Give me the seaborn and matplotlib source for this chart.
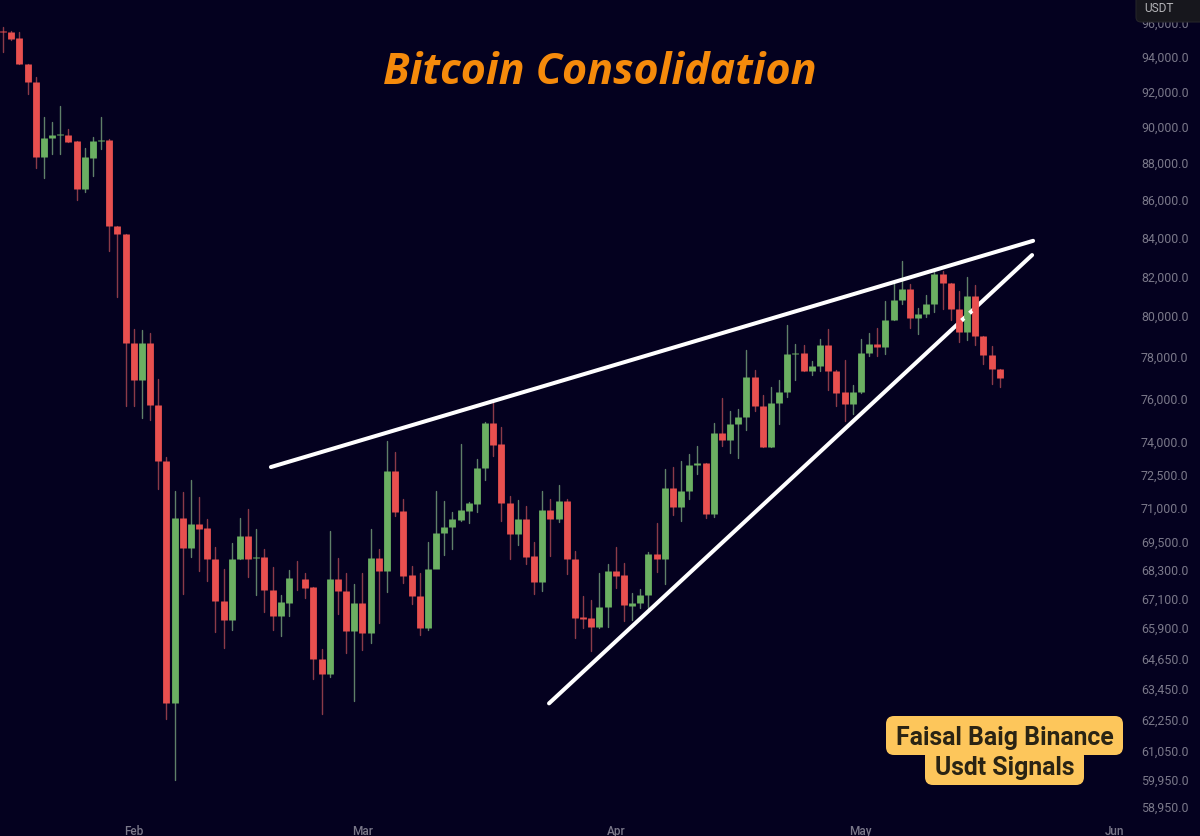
import numpy as np
import pandas as pd
import matplotlib
matplotlib.use("Agg")
import matplotlib.pyplot as plt
import matplotlib.dates as mdates
from matplotlib.patches import FancyBboxPatch
from matplotlib.ticker import NullLocator
from matplotlib.transforms import Affine2D
import seaborn as sns

start_date = "2025-01-16"
opens = [95530,95500,95100,93590,92570,88350,89370,89530,89570,89190,86570,88280,89200,89290,84630,84200,78670,76900,78670,75700,
 73120,62870,70550,69250,70310,70130,68800,67020,66200,68800,69780,68830,68870,67460,66400,66930,67990,67950,67580,64650,
 64040,67950,67430,65780,66920,65690,68820,68270,72650,70860,68090,67200,65890,68370,69900,70175,70470,70880,71180,72770,
 74870,73860,71240,69880,70500,68900,67800,70900,70520,71310,68800,66340,66300,65930,66740,68260,68090,66810,66910,67270,
 68990,68800,71880,71030,71760,72920,73010,70720,74390,74080,74790,75120,77040,75670,73760,75810,76290,78150,78200,77330,
 77560,78590,77320,76290,75730,76310,78180,78650,78500,79800,80830,81360,79920,80130,80600,82140,81650,80380,79230,81010,
 79030,78080,77400]
closes = [95470,95030,93590,92530,88350,89400,89540,89580,89150,86590,88310,89190,89290,84600,84190,78670,76900,78670,75700,73100,
 62870,70550,69250,70310,70090,68800,67020,66200,68800,69780,68800,68860,67460,66400,66960,67970,67960,67560,64650,64040,
 67950,67430,65780,66920,65690,68820,68270,72650,70840,68060,67200,65890,68370,69920,70180,70515,70910,71210,72790,74870,
 73830,71210,69880,70500,68870,67800,70900,70510,71310,68760,66300,66270,65930,66760,68270,68040,66820,66910,67270,68990,
 68800,71880,71030,71760,72920,73010,70720,74390,74080,74790,75120,77040,75640,73760,75810,76290,78150,78200,77330,77560,
 78590,77320,76270,75730,76310,78180,78650,78500,79800,80830,81360,79920,80130,80600,82140,81650,80380,79230,81010,79030,
 78070,77400,76970]
highs = [95780,95510,95470,93600,92840,90560,90300,91170,89880,89200,88810,89460,90540,89300,84640,84210,79370,79300,79170,76950,
 73300,71760,71690,72250,71470,70510,69300,68370,69460,70550,70960,70090,69230,68440,67270,68310,68690,68170,67600,65020,
 69970,68840,68200,67700,68170,70070,69200,74010,73500,71400,68490,68170,69490,71760,71290,70820,73860,71260,73180,74900,
 75950,74680,71540,71370,71070,69510,71760,71400,72010,71400,69130,67230,67060,68170,68560,69310,68630,67350,67490,69090,
 70340,72760,72850,73100,73410,73780,73020,74870,76030,75410,75520,78310,77350,76190,76560,76900,79560,78640,78590,77820,
 78870,79370,77340,77850,76630,78880,79170,79400,80770,81710,82800,81630,80430,81050,82320,82280,81680,81260,81970,81550,
 79040,78540,77420]
lows = [94300,95020,93580,91840,87740,87200,88480,88480,89150,86000,86450,87300,88770,83330,80935,75670,75670,75100,75000,71840,
 62250,59950,67310,68870,68270,67840,65730,65080,65820,68780,68030,67240,66530,65820,65580,66400,67480,67140,63840,62440,
 63930,66460,64880,62950,65010,65260,66100,67400,70640,67740,66880,65620,65820,68900,68940,69200,70440,70340,70840,72250,
 73330,70440,68770,69370,68560,67310,67410,68890,70370,68130,65500,65890,64970,65890,65950,67530,66160,66230,66720,66720,
 68230,67700,70700,70440,71400,72500,70550,70590,73790,73450,73260,74510,75410,73750,73750,74790,76080,76900,77300,77110,
 77300,76390,75630,74930,75280,76280,78020,78020,78150,79790,80630,79400,79120,79940,80210,80380,79800,78700,78830,78590,
 77630,76670,76530]

price_ticks = [96000,94000,92000,90000,88000,86000,84000,82000,80000,78000,76000,74000,72500,71000,69500,68300,67100,65900,64650,63450,62250,61050,59950,58950]
month_ticks = ["2025-02-01","2025-03-01","2025-04-01","2025-05-01","2025-06-01"]
month_labels = ["Feb","Mar","Apr","May","Jun"]

upper_dates = ["2025-02-17 19:00","2025-05-22 02:00"]
upper_prices = [72830,83840]
lower_dates = ["2025-03-23 20:00","2025-05-21 23:00"]
lower_prices = [62870,83100]
# short stretches of the lower trend line that show over candle bodies
overlay_dates = ["2025-05-13 07:40","2025-05-13 15:00","2025-05-14 07:20","2025-05-14 14:20"]
overlay_prices = [79785,79900,80150,80270]
overlay_groups = [0,0,1,1]

title_text = "Bitcoin Consolidation"
badge_lines = ["Faisal Baig Binance","Usdt Signals"]
unit_text = "USDT"

BG = "#04011F"
RED = "#E8504F"
GREEN = "#6BAF62"
palette_body = {"up":GREEN,"down":RED}
palette_wick = {"up":"#5F7F68","down":"#8A3A48"}

dates = pd.date_range(start_date, periods=len(opens), freq="D")
ohlc = pd.DataFrame({"date":dates,"open":opens,"high":highs,"low":lows,"close":closes})
ohlc["dir"] = np.where(ohlc["close"]>=ohlc["open"],"up","down")
ohlc["candle"] = np.arange(len(ohlc))
wicks = ohlc.melt(id_vars=["date","candle","dir"],value_vars=["high","low"],value_name="price")
bodies = ohlc.melt(id_vars=["date","candle","dir"],value_vars=["open","close"],value_name="price")

sns.set_theme(style="dark")
plt.rcParams["font.family"] = ["Roboto","DejaVu Sans"]

W,H = 1200,836
fig = plt.figure(figsize=(W/100,H/100),dpi=100,facecolor=BG)
ax = fig.add_axes([0,0,1,1],facecolor=BG)
ax.set_yscale("log")

sns.lineplot(data=wicks,x="date",y="price",hue="dir",units="candle",estimator=None,sort=False,
             palette=palette_wick,lw=1.0,legend=False,ax=ax,zorder=2)
trend_low = pd.DataFrame({"date":pd.to_datetime(lower_dates),"price":lower_prices})
trend_up = pd.DataFrame({"date":pd.to_datetime(upper_dates),"price":upper_prices})
overlay = pd.DataFrame({"date":pd.to_datetime(overlay_dates),"price":overlay_prices,"g":overlay_groups})
sns.lineplot(data=trend_low,x="date",y="price",color="white",lw=2.9,ax=ax,zorder=2.5,
             solid_capstyle="round",estimator=None)
sns.lineplot(data=bodies,x="date",y="price",hue="dir",units="candle",estimator=None,sort=False,
             palette=palette_body,lw=4.9,legend=False,ax=ax,zorder=3,solid_capstyle="butt")
sns.lineplot(data=trend_up,x="date",y="price",color="white",lw=2.9,ax=ax,zorder=4,
             solid_capstyle="round",estimator=None)
sns.lineplot(data=overlay,x="date",y="price",units="g",color="white",lw=2.9,ax=ax,zorder=4,
             solid_capstyle="butt",estimator=None)

d0 = mdates.date2num(pd.Timestamp(start_date))
px_per_day = 8.17
ax.set_xlim(d0-3/px_per_day, d0+(W-3)/px_per_day)
ax.set_ylim(94000*np.exp(-(H-57)/1607), 94000*np.exp(57/1607))

ax.set_xlabel("");ax.set_ylabel("")
ax.grid(False)
for s in ax.spines.values():
    s.set_visible(False)
ax.yaxis.tick_right()
ax.set_yticks(price_ticks)
ax.set_yticklabels([f"{v:,.1f}" for v in price_ticks])
ax.yaxis.set_minor_locator(NullLocator())
ax.set_xticks(mdates.date2num(pd.to_datetime(month_ticks)))
ax.set_xticklabels(month_labels)
ax.tick_params(axis="y",length=0,pad=-42.5,labelsize=8.9,labelcolor="#7A7889")
ax.tick_params(axis="x",length=0,pad=-8,labelsize=8.5,labelcolor="#7A7889")
for t in ax.get_xticklabels():
    t.set_fontweight("medium")

px = Affine2D().scale(1,-1).translate(0,H)

# USDT box in the top right corner
ax.add_patch(FancyBboxPatch((1139,-20),80,39,boxstyle="round,pad=3,rounding_size=5",fc="#17171D",ec="#242429",lw=0.8,
                            transform=px,clip_on=False,zorder=10))
ax.text(1144.5,8,unit_text,transform=px,color="#B4B4B8",fontsize=8.6,va="center",ha="left",zorder=11)

# title
ax.text(600,73,title_text,transform=px,color="#F58A0B",fontsize=31,fontweight="bold",fontstyle="italic",
        family="Open Sans",ha="center",va="center",zorder=11)

# badge
for (x0,y0,x1,y1) in [(890,720,1119,751),(929,752,1080,781)]:
    ax.add_patch(FancyBboxPatch((x0,y0),x1-x0,y1-y0,boxstyle="round,pad=4,rounding_size=8",fc="#FDC65B",ec="none",
                                transform=px,clip_on=False,zorder=10))
ax.text(1005,738,badge_lines[0],transform=px,color="#2A2414",fontsize=17.8,fontweight="bold",ha="center",va="center",zorder=11)
ax.text(1005,768,badge_lines[1],transform=px,color="#2A2414",fontsize=17.8,fontweight="bold",ha="center",va="center",zorder=11)

fig.savefig("out.png",dpi=100,facecolor=BG)
